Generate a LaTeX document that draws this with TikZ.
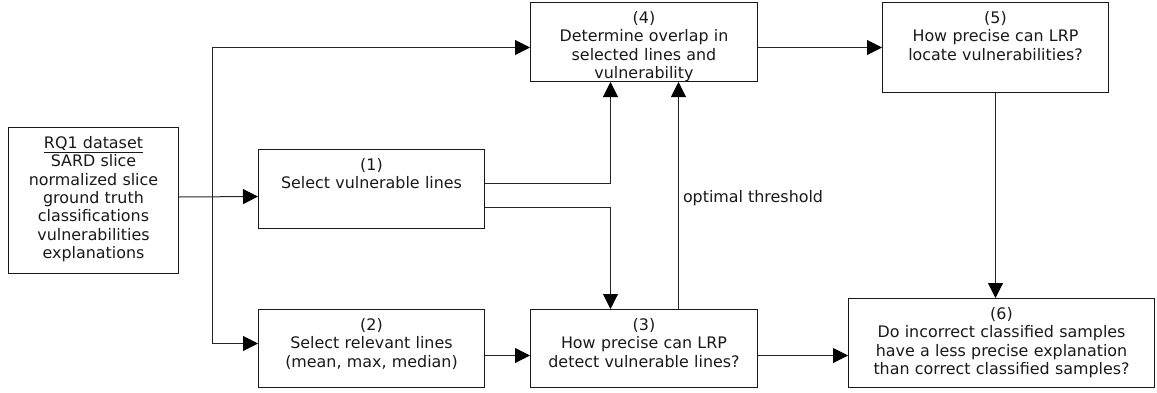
\documentclass[tikz,border=0pt]{standalone}
\usepackage{fontspec}
\setmainfont{DejaVu Sans}
\usetikzlibrary{arrows.meta, calc}

\begin{document}
\begin{tikzpicture}[x=1pt, y=-1pt, font=\fontsize{15.9pt}{18.3pt}\selectfont, text=black!90,
  box/.style={draw=black!90, line width=1pt, align=center, text width=#1, inner xsep=0pt, inner ysep=5pt, text height=16pt, anchor=north west},
  arr/.style={-{Triangle[length=15pt,width=15pt,color=black]}, line width=1pt, draw=black!85}]
\useasboundingbox (0,0) rectangle (1157,392);

% Input data and the selection steps
\node[box=170pt, text depth=120pt] (dataset) at (8,127) {\underline{RQ1 dataset}\\SARD slice\\normalized slice\\ground truth\\classifications\\vulnerabilities\\explanations};
\node[box=226pt, text depth=53pt] (selvuln) at (258,149) {(1)\\Select vulnerable lines};
\node[box=226pt, text depth=52pt] (selrel) at (258,309) {(2)\\Select relevant lines\\(mean, max, median)};

% Evaluation steps
\node[box=227pt, text depth=52pt] (detect) at (530,309) {(3)\\How precise can LRP\\detect vulnerable lines?};
\node[box=227pt, text depth=53pt] (overlap) at (530,2) {(4)\\Determine overlap in\\selected lines and\\vulnerability};
\node[box=226pt, text depth=64pt] (locate) at (882,2) {(5)\\How precise can LRP\\locate vulnerabilities?};
\node[box=306pt, text depth=63pt] (incorrect) at (848,298) {(6)\\Do incorrect classified samples\\have a less precise explanation\\than correct classified samples?};

% Connectors from the dataset
\coordinate (bus) at (212,196.5);
\draw[arr] ([yshift=3.5pt]dataset.east) -- (selvuln.west |- bus);
\draw[arr] (bus) |- ([yshift=-5.5pt]overlap.west);
\draw[arr] (bus) |- ([yshift=5pt]selrel.west);

% Connectors between the steps
\draw[arr] ([yshift=5.5pt]selvuln.east) -| ([xshift=-33.5pt]overlap.south);
\draw[arr] ([yshift=-18.5pt]selvuln.east) -| ([xshift=-33.5pt]detect.north);
\draw[arr] ([xshift=34.5pt]detect.north) -- ([xshift=34.5pt]overlap.south) node[pos=0.487, right, inner sep=4pt] (thr) {optimal threshold};
\draw[arr] ([yshift=-7pt]selrel.east) -- ([yshift=-7pt]detect.west);
\draw[arr] ([yshift=-7pt]detect.east) -- ([yshift=-12.5pt]incorrect.west);
\draw[arr] ([yshift=-5.5pt]overlap.east) -- (locate.west);
\draw[arr] (locate.south) -- (locate.south |- incorrect.north);
\end{tikzpicture}
\end{document}
